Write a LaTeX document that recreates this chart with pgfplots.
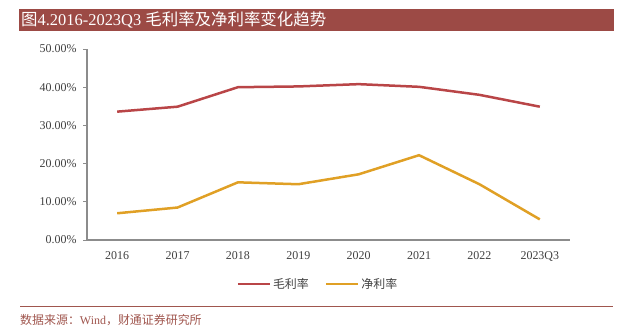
\documentclass[border=0pt]{standalone}
\usepackage{fontspec}
\usepackage{pgfplots}
\pgfplotsset{compat=1.18}
\setmainfont{Liberation Serif}
\newfontfamily\cjk{Noto Sans CJK SC}
\definecolor{barred}{HTML}{9C4A45}
\definecolor{grossred}{HTML}{B94547}
\definecolor{netorange}{HTML}{E0A025}
\definecolor{axgrey}{HTML}{8C8C8C}
\definecolor{txtgrey}{HTML}{404040}
\definecolor{srcred}{HTML}{A0564E}
\begin{document}
\begin{tikzpicture}[x=1bp,y=1bp]
\path[use as bounding box] (0,0) rectangle (630,328);
\fill[barred] (19,297) rectangle (614,319);
\node[anchor=west, text=white, inner sep=0pt] at (21,308.5) {\fontsize{16.5}{18}\selectfont {\cjk 图}4.2016-2023Q3 {\cjk 毛利率及净利率变化趋势}};
\draw[srcred, line width=1bp] (20,22) -- (613,22);
\node[anchor=west, text=srcred, inner sep=0pt] at (20,8) {\fontsize{12}{14}\selectfont {\cjk 数据来源：}Wind{\cjk ，财通证券研究所}};
\begin{axis}[
  at={(87bp,88bp)}, anchor=south west,
  width=483bp, height=191bp, scale only axis,
  xmin=-0.5, xmax=7.5, ymin=0, ymax=50,
  axis lines*=left,
  axis line style={axgrey, line width=1.2bp, -},
  xtick={0,1,2,3,4,5,6,7},
  xticklabels={2016,2017,2018,2019,2020,2021,2022,2023Q3},
  major x tick style={draw=none},
  extra x ticks={-0.5,0.5,1.5,2.5,3.5,4.5,5.5,6.5,7.5},
  extra x tick labels={},
  extra x tick style={tick align=outside, major tick length=4bp, tick style={axgrey, line width=1bp}},
  ytick={0,10,20,30,40,50},
  yticklabels={0.00\%,10.00\%,20.00\%,30.00\%,40.00\%,50.00\%},
  tick align=outside,
  major tick length=4bp,
  y tick style={axgrey, line width=1bp},
  ticklabel style={font=\fontsize{12}{14}\selectfont, text=txtgrey},
  xticklabel style={yshift=-4bp},
  yticklabel style={xshift=-3bp},
  /pgf/number format/assume math mode=true,
  legend style={at={(axis description cs:0.478,-0.23)}, anchor=center, draw=none, fill=none,
    legend columns=2, font=\cjk\fontsize{12}{14}\selectfont, text=txtgrey,
    /tikz/every even column/.append style={column sep=14bp}},
  legend image code/.code={\draw[#1, line width=2.5bp] (0bp,0bp) -- (32bp,0bp);},
  clip=false,
]
\addplot[grossred, line width=2.5bp] coordinates {(0,33.6) (1,34.9) (2,40.0) (3,40.2) (4,40.8) (5,40.1) (6,38.0) (7,34.9)};
\addlegendentry{毛利率}
\addplot[netorange, line width=2.5bp] coordinates {(0,7.0) (1,8.5) (2,15.1) (3,14.6) (4,17.2) (5,22.2) (6,14.6) (7,5.4)};
\addlegendentry{净利率}
\end{axis}
\end{tikzpicture}
\end{document}
